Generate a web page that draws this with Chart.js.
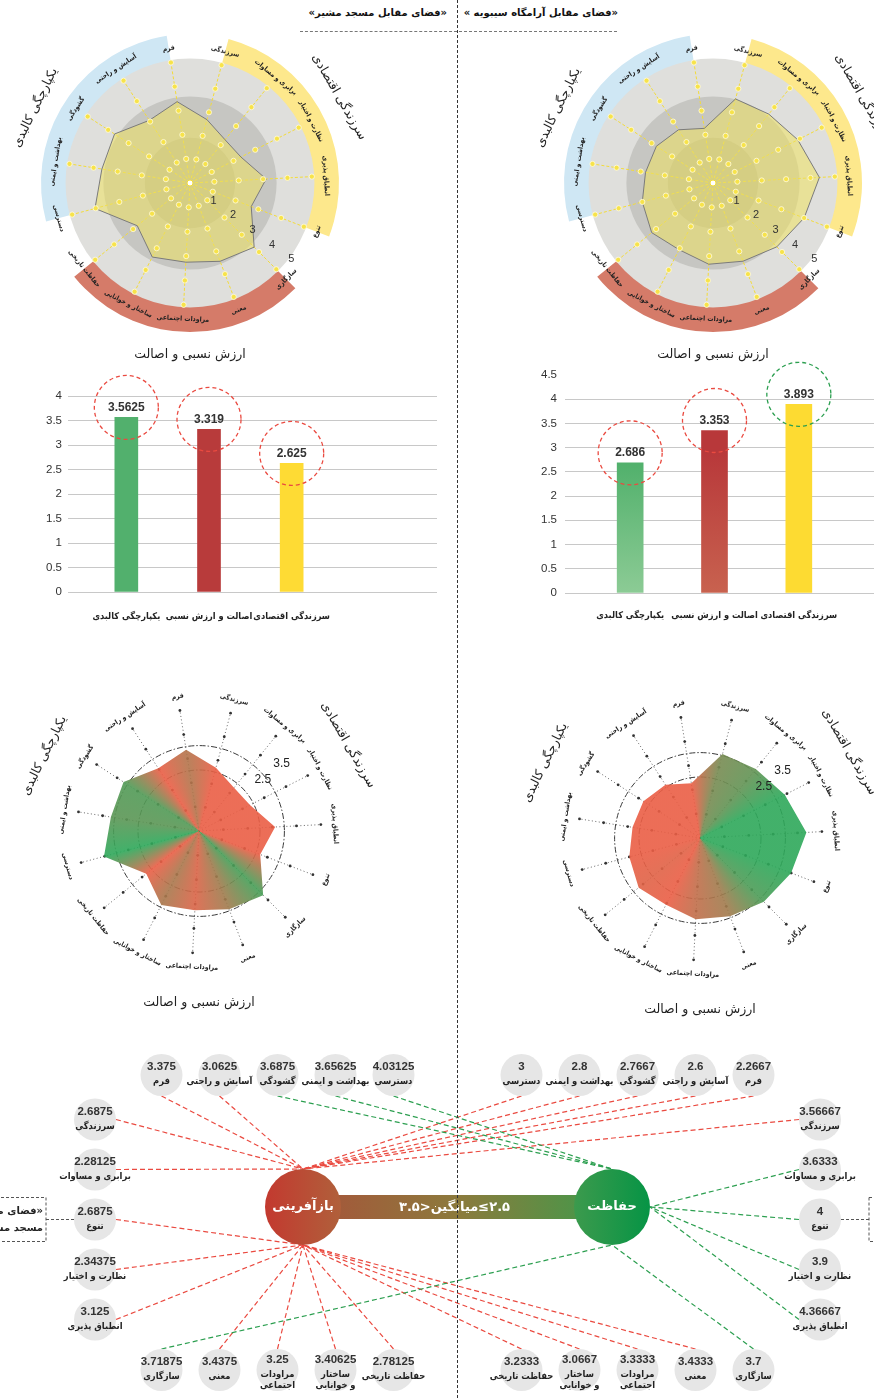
<!DOCTYPE html>
<html lang="fa">
<head>
<meta charset="utf-8">
<title>بازآفرینی و حفاظت</title>
<script src="https://cdn.jsdelivr.net/npm/chart.js@4.4.1/dist/chart.umd.min.js"></script>
<style>
    html, body { margin: 0; padding: 0; background: #fff; }
    body { width: 874px; height: 1398px; position: relative; overflow: hidden; font-family: 'DejaVu Sans', sans-serif; }
    .pane { position: absolute; }
    .title { position: absolute; top: 7px; font: bold 10px 'DejaVu Sans'; direction: rtl; white-space: nowrap; color: #111; }
    .vline { position: absolute; left: 457px; top: 0; height: 1398px; border-left: 1.3px dashed #333; z-index: 10; }
    .hline { position: absolute; top: 31px; height: 0; border-top: 1px dashed #777; }
</style>
</head>
<body>
<div class="title" style="right:427px">«فضای مقابل مسجد مشیر»</div>
<div class="title" style="right:256px">«فضای مقابل آرامگاه سیبویه »</div>
<div class="hline" style="left:300px; width:157px"></div>
<div class="hline" style="left:459px; width:158px"></div>
<div class="vline"></div>

<div class="pane" style="left:0; top:0; width:400px; height:370px"><canvas id="radar-mosque"></canvas></div>
<div class="pane" style="left:480px; top:0; width:394px; height:370px"><canvas id="radar-tomb"></canvas></div>
<div class="pane" style="left:0; top:370px; width:437px; height:270px"><canvas id="bars-mosque"></canvas></div>
<div class="pane" style="left:458px; top:360px; width:416px; height:280px"><canvas id="bars-tomb"></canvas></div>
<div class="pane" style="left:0; top:640px; width:420px; height:380px"><canvas id="grad-mosque"></canvas></div>
<div class="pane" style="left:470px; top:640px; width:404px; height:390px"><canvas id="grad-tomb"></canvas></div>
<div class="pane" style="left:0; top:1040px; width:874px; height:358px"><canvas id="links"></canvas></div>

<script>
// criteria in radar order, clockwise from the first spoke right of north
const criteria = ['سرزندگی', 'برابری و مساوات', 'نظارت و اختیار', 'انطباق پذیری', 'تنوع',
    'سازگاری', 'معنی', 'مراودات اجتماعی', 'ساختار و خوانایی', 'حفاظت تاریخی',
    'دسترسی', 'بهداشت و ایمنی', 'گشودگی', 'آسایش و راحتی', 'فرم'];
const mosqueScores = [2.6875, 2.28125, 2.34375, 3.125, 2.6875,
    3.71875, 3.4375, 3.25, 3.40625, 2.78125,
    4.03125, 3.65625, 3.6875, 3.0625, 3.375];
const tombScores = [3.56667, 3.6333, 3.9, 4.36667, 4,
    3.7, 3.4333, 3.3333, 3.0667, 3.2333,
    3, 2.8, 2.7667, 2.6, 2.2667];

const groupNames = ['سرزندگی اقتصادی', 'ارزش نسبی و اصالت', 'یکپارچگی کالبدی'];
const groupFirst = [0, 5, 10];
const radarTicks = [1, 2, 3, 4, 5];
const lowRadarTicks = [2.5, 3.5];

const barLabels = ['یکپارچگی کالبدی', 'اصالت و ارزش نسبی', 'سرزندگی اقتصادی'];
const mosqueBars = [3.5625, 3.319, 2.625];
const tombBars = [2.686, 3.353, 3.893];

// network diagram groups
const physRow = ['فرم', 'آسایش و راحتی', 'گشودگی', 'بهداشت و ایمنی', 'دسترسی'];
const econCol = ['سرزندگی', 'برابری و مساوات', 'تنوع', 'نظارت و اختیار', 'انطباق پذیری'];
const valueRow = ['سازگاری', 'معنی', 'مراودات اجتماعی', 'ساختار و خوانایی', 'حفاظت تاریخی'];
const hubNames = ['بازآفرینی', 'حفاظت'];

const GOOD = 3.6;
const RED = '#ea4a40';
const GREEN = '#2c9f50';
const FA = "'DejaVu Sans'";
const FA_NARROW = "'DejaVu Sans Condensed', 'DejaVu Sans'";
const NUM = "'Liberation Sans', 'DejaVu Sans'";

Chart.defaults.font.family = NUM;
Chart.defaults.animation = false;

function tangentText(ctx, cx, cy, r, deg, text) {
    const t = deg * Math.PI / 180;
    const d = ((deg % 360) + 540) % 360 - 180;
    ctx.save();
    ctx.translate(cx + r * Math.sin(t), cy - r * Math.cos(t));
    ctx.rotate(Math.abs(d) > 90 ? t + Math.PI : t);
    ctx.textAlign = 'center';
    ctx.textBaseline = 'middle';
    ctx.direction = 'rtl';
    ctx.fillText(text, 0, 0);
    ctx.restore();
}

function mixColor(v, alpha) {
    const t = Math.max(0, Math.min(1, (v - 3.2) / 0.6));
    const r = Math.round(234 + (46 - 234) * t);
    const g = Math.round(94 + (168 - 94) * t);
    const b = Math.round(69 + (90 - 69) * t);
    return `rgba(${r},${g},${b},${alpha})`;
}

function radarDecor(style, scores) {
    const bandColors = ['#fde88c', '#d57b69', '#cfe7f4'];
    const titleDeg = [60, 180, -64];
    const deg = (s, i) => s.getIndexAngle(i) * 180 / Math.PI;

    function labels(chart) {
        const s = chart.scales.r, ctx = chart.ctx;
        const R = s.getDistanceFromCenterForValue(5);
        ctx.save();
        ctx.fillStyle = '#222';
        ctx.font = `bold 6.8px ${FA_NARROW}`;
        criteria.forEach((c, i) => tangentText(ctx, s.xCenter, s.yCenter, R + 14, deg(s, i), c));
        ctx.font = `12.5px ${FA}`;
        groupNames.forEach((g, k) => tangentText(ctx, s.xCenter, s.yCenter, R + 50, titleDeg[k], g));
        ctx.restore();
    }

    function spokeDots(chart, fill, stroke, radius) {
        const s = chart.scales.r, ctx = chart.ctx;
        ctx.save();
        criteria.forEach((c, i) => {
            radarTicks.forEach(v => {
                const p = s.getPointPosition(i, s.getDistanceFromCenterForValue(v));
                ctx.beginPath();
                ctx.arc(p.x, p.y, radius, 0, Math.PI * 2);
                ctx.fillStyle = fill;
                ctx.fill();
                if (stroke) { ctx.strokeStyle = stroke; ctx.lineWidth = 0.8; ctx.stroke(); }
            });
        });
        ctx.restore();
    }

    return {
        id: 'radarDecor',
        beforeDraw(chart) {
            if (style !== 'disk') return;
            const s = chart.scales.r, ctx = chart.ctx;
            const cx = s.xCenter, cy = s.yCenter;
            const R = s.getDistanceFromCenterForValue(5);
            ctx.save();
            bandColors.forEach((col, k) => {
                const a0 = s.getIndexAngle(groupFirst[k]) - Math.PI / 2;
                const a1 = s.getIndexAngle(groupFirst[k] + 4) - Math.PI / 2;
                ctx.beginPath();
                ctx.arc(cx, cy, R + 27, a0, a1);
                ctx.arc(cx, cy, R - 10, a1, a0, true);
                ctx.closePath();
                ctx.fillStyle = col;
                ctx.fill();
            });
            [[5.1, '#dfdfdc'], [3.55, '#c6c6c2'], [1.85, '#b5b5ad']].forEach(([v, col]) => {
                ctx.beginPath();
                ctx.arc(cx, cy, s.getDistanceFromCenterForValue(v), 0, Math.PI * 2);
                ctx.fillStyle = col;
                ctx.fill();
            });
            ctx.restore();
        },
        beforeDatasetsDraw(chart) {
            if (style === 'disk') return;
            const s = chart.scales.r, ctx = chart.ctx;
            // conic fill: each spoke tinted from red (low score) to green (high score)
            const poly = chart.getDatasetMeta(0).dataset;
            if (poly && ctx.createConicGradient && isFinite(s.xCenter)) {
                const g = ctx.createConicGradient(s.getIndexAngle(0) - Math.PI / 2, s.xCenter, s.yCenter);
                scores.forEach((v, i) => g.addColorStop(i / scores.length, mixColor(v, 0.9)));
                g.addColorStop(1, mixColor(scores[0], 0.9));
                poly.options.backgroundColor = g;
            }
            ctx.save();
            ctx.strokeStyle = '#3a3a3a';
            ctx.lineWidth = 1;
            ctx.setLineDash([6, 2, 1.5, 2]);
            lowRadarTicks.forEach(v => {
                ctx.beginPath();
                ctx.arc(s.xCenter, s.yCenter, s.getDistanceFromCenterForValue(v), 0, Math.PI * 2);
                ctx.stroke();
            });
            ctx.restore();
            spokeDots(chart, '#333', null, 1.4);
        },
        afterDatasetsDraw(chart) {
            const s = chart.scales.r, ctx = chart.ctx;
            const cx = s.xCenter, cy = s.yCenter;
            if (style === 'disk') {
                spokeDots(chart, '#f7e34a', '#fffbe3', 2.6);
                ctx.save();
                ctx.beginPath();
                ctx.arc(cx, cy, 3, 0, Math.PI * 2);
                ctx.fillStyle = '#fff';
                ctx.fill();
                ctx.strokeStyle = '#f2dc3a';
                ctx.stroke();
                ctx.fillStyle = '#333';
                ctx.font = `11px ${NUM}`;
                ctx.textAlign = 'center';
                ctx.textBaseline = 'middle';
                const t = 127 * Math.PI / 180;
                radarTicks.forEach(v => {
                    const r = s.getDistanceFromCenterForValue(v) + 5;
                    ctx.fillText(String(v), cx + r * Math.sin(t), cy - r * Math.cos(t));
                });
                ctx.restore();
            } else {
                ctx.save();
                ctx.fillStyle = '#222';
                ctx.font = `12px ${NUM}`;
                ctx.textAlign = 'center';
                ctx.textBaseline = 'middle';
                const t = 51 * Math.PI / 180;
                lowRadarTicks.forEach(v => {
                    const r = s.getDistanceFromCenterForValue(v) + 21;
                    ctx.fillText(String(v), cx + r * Math.sin(t), cy - r * Math.cos(t));
                });
                ctx.restore();
            }
            labels(chart);
        }
    };
}

function radarChart(id, scores, style, box) {
    const R = 122.5;
    const padding = {
        left: box.cx - R, right: box.w - box.cx - R,
        top: box.cy - R, bottom: box.h - box.cy - R
    };
    const dataset = style === 'disk'
        ? { data: scores, backgroundColor: 'rgba(238,226,96,0.55)', borderColor: '#7b7b7b', borderWidth: 1, pointRadius: 0 }
        : { data: scores, backgroundColor: mixColor(3, 0.9), borderWidth: 0, pointRadius: 0 };
    return new Chart(document.getElementById(id), {
        type: 'radar',
        data: { labels: criteria, datasets: [dataset] },
        options: {
            responsive: true, maintainAspectRatio: false,
            layout: { padding, autoPadding: false },
            plugins: { legend: { display: false }, tooltip: { enabled: false } },
            scales: {
                r: {
                    min: 0, max: 5, startAngle: 15,
                    ticks: { display: false },
                    pointLabels: { display: false },
                    grid: { display: false },
                    angleLines: style === 'disk'
                        ? { color: '#f3dc3a', lineWidth: 1, borderDash: [3, 2] }
                        : { color: '#555', lineWidth: 0.9, borderDash: [1, 2.5] }
                }
            }
        },
        plugins: [radarDecor(style, scores)]
    });
}

const barMarks = {
    id: 'barMarks',
    beforeDatasetsDraw(chart, args, opts) {
        const y = chart.scales.y, a = chart.chartArea, ctx = chart.ctx;
        ctx.save();
        ctx.strokeStyle = '#c8c8c8';
        ctx.lineWidth = 1;
        y.ticks.forEach(t => {
            if (t.value >= y.max && opts.hideTop) return;
            const py = Math.round(y.getPixelForValue(t.value) - 0.5) + 0.5;
            ctx.beginPath();
            ctx.moveTo(a.right - 1, py);
            ctx.lineTo(a.right + opts.ext, py);
            ctx.stroke();
        });
        ctx.restore();
    },
    afterDatasetsDraw(chart) {
        const ctx = chart.ctx;
        const values = chart.data.datasets[0].data;
        chart.getDatasetMeta(0).data.forEach((bar, i) => {
            const y = bar.y - 10;
            ctx.save();
            ctx.font = `bold 12px ${NUM}`;
            ctx.fillStyle = '#333';
            ctx.textAlign = 'center';
            ctx.textBaseline = 'middle';
            ctx.fillText(String(values[i]), bar.x, y);
            ctx.beginPath();
            ctx.arc(bar.x, y, 32, 0, Math.PI * 2);
            ctx.setLineDash([4, 3]);
            ctx.lineWidth = 1.3;
            ctx.strokeStyle = values[i] >= GOOD ? GREEN : RED;
            ctx.stroke();
            ctx.restore();
        });
    }
};

function barChart(id, values, o) {
    return new Chart(document.getElementById(id), {
        type: 'bar',
        data: {
            labels: barLabels,
            datasets: [{ data: values, backgroundColor: o.colors, barThickness: o.thickness }]
        },
        options: {
            responsive: true, maintainAspectRatio: false,
            layout: { padding: { top: o.top, right: o.right, left: 0, bottom: 0 }, autoPadding: false },
            plugins: {
                legend: { display: false }, tooltip: { enabled: false },
                barMarks: { ext: o.right, hideTop: o.hideTop }
            },
            scales: {
                x: {
                    grid: { display: false, drawTicks: false },
                    border: { display: false },
                    ticks: {
                        font: { size: 9.2, weight: 'bold', family: FA_NARROW }, color: '#222', padding: o.labelPad,
                        maxRotation: 0, minRotation: 0, autoSkip: false
                    },
                    afterFit(s) { s.height = o.axisH; }
                },
                y: {
                    min: 0, max: o.max,
                    ticks: { stepSize: 0.5, font: { size: 11.5 }, color: '#333', padding: o.tickPad, callback: v => String(v) },
                    grid: {
                        tickLength: o.tickLen,
                        color: c => (o.hideTop && c.tick && c.tick.value >= o.max) ? 'rgba(0,0,0,0)' : '#c8c8c8'
                    },
                    border: { display: false },
                    afterFit(s) { s.width = o.axisW; }
                }
            }
        },
        plugins: [barMarks]
    });
}

radarChart('radar-mosque', mosqueScores, 'disk', { w: 400, h: 370, cx: 190, cy: 183 });
radarChart('radar-tomb', tombScores, 'disk', { w: 394, h: 370, cx: 233, cy: 183 });
radarChart('grad-mosque', mosqueScores, 'grad', { w: 420, h: 380, cx: 199, cy: 191 });
radarChart('grad-tomb', tombScores, 'grad', { w: 404, h: 390, cx: 230, cy: 198 });

barChart('bars-mosque', mosqueBars, {
    colors: ['#52b06d', '#b83b3b', '#fedb34'], thickness: 23,
    max: 4, top: 26, right: 104, axisW: 85, axisH: 48, tickLen: 17, tickPad: 6, labelPad: 19, hideTop: false
});

const tombTop = ['#4cae68', '#b8383a', '#fddb32'];
const tombBottom = ['#8ccb95', '#c8624f', '#fddb32'];
barChart('bars-tomb', tombBars, {
    colors(c) {
        const ch = c.chart, a = ch.chartArea, i = c.dataIndex;
        if (!a || !isFinite(a.top) || !isFinite(a.bottom)) return tombTop[i];
        const g = ch.ctx.createLinearGradient(0, a.top, 0, a.bottom);
        g.addColorStop(0.35, tombTop[i]);
        g.addColorStop(1, tombBottom[i]);
        return g;
    },
    thickness: 26,
    max: 4.5, top: 12, right: 33, axisW: 130, axisH: 47, tickLen: 23, tickPad: 8, labelPad: 17, hideTop: true
});

// ---- network diagram: layout in 50px units, origin on the centre line at the hub row
const U = 50;
const ROW_TOP = -2.64, ROW_BOTTOM = 3.26, COL_FIRST = -1.75, COL_X = 7.25;
const SLOT_FIRST = 5.92, SLOT_STEP = 1.16, HUB_X = 3.09;
const NODE_R = 21, HUB_R = 38;

const nodes = [];
[['left', mosqueScores], ['right', tombScores]].forEach(([side, scores]) => {
    const sign = side === 'left' ? -1 : 1;
    const score = name => scores[criteria.indexOf(name)];
    physRow.forEach((name, i) => nodes.push({ name, value: score(name), side, row: 'top', i,
        x: sign * (SLOT_FIRST - SLOT_STEP * i), y: ROW_TOP }));
    econCol.forEach((name, i) => nodes.push({ name, value: score(name), side, row: 'col', i,
        x: sign * COL_X, y: COL_FIRST + i }));
    valueRow.forEach((name, i) => nodes.push({ name, value: score(name), side, row: 'bottom', i,
        x: sign * (SLOT_FIRST - SLOT_STEP * i), y: ROW_BOTTOM }));
});

const nr = NODE_R / U, hr = HUB_R / U;
const linkSets = nodes.map(n => {
    const good = n.value >= GOOD;
    const hx = good ? HUB_X : -HUB_X;
    let from, to;
    if (n.row === 'top') from = { x: n.x, y: n.y + nr };
    else if (n.row === 'bottom') from = { x: n.x, y: n.y - nr };
    else from = { x: n.x + (n.side === 'left' ? nr : -nr), y: n.y };
    if (n.row === 'top') to = { x: hx, y: -hr };
    else if (n.row === 'bottom') to = { x: hx, y: hr };
    else if (good && n.side === 'right') to = { x: hx + hr, y: 0 };
    else to = { x: hx, y: n.i < 2 ? -hr : hr };
    return {
        type: 'line', data: [from, to], borderColor: good ? GREEN : RED,
        borderWidth: 1.2, borderDash: [5, 3], pointRadius: 0, fill: false
    };
});

const wrapped = { 'مراودات اجتماعی': ['مراودات', 'اجتماعی'], 'ساختار و خوانایی': ['ساختار', 'و خوانایی'] };

const diagramText = {
    id: 'diagramText',
    beforeDatasetsDraw(chart) {
        const hubs = chart.getDatasetMeta(1).data;
        const ctx = chart.ctx;
        const a = hubs[0], b = hubs[1];
        const g = ctx.createLinearGradient(a.x, 0, b.x, 0);
        g.addColorStop(0, '#a8523a');
        g.addColorStop(0.5, '#8c7a3c');
        g.addColorStop(1, '#3f9b4b');
        ctx.save();
        ctx.fillStyle = g;
        ctx.fillRect(a.x, a.y - 12, b.x - a.x, 24);
        ctx.restore();
        // hub discs with a left-to-right shading
        const shades = [['#c3392f', '#b0603b'], ['#3c9a4d', '#069445']];
        hubs.forEach((h, i) => {
            const hg = ctx.createLinearGradient(h.x - HUB_R, 0, h.x + HUB_R, 0);
            hg.addColorStop(0, shades[i][0]);
            hg.addColorStop(1, shades[i][1]);
            h.options.backgroundColor = hg;
        });
    },
    afterDatasetsDraw(chart) {
        const ctx = chart.ctx;
        const pts = chart.getDatasetMeta(0).data;
        ctx.save();
        ctx.textAlign = 'center';
        ctx.textBaseline = 'middle';
        nodes.forEach((n, i) => {
            const p = pts[i];
            const lines = n.row === 'bottom' && wrapped[n.name] ? wrapped[n.name] : [n.name];
            const top = lines.length > 1 ? p.y - 10 : p.y - 8;
            ctx.direction = 'ltr';
            ctx.fillStyle = '#333';
            ctx.font = `bold 11.5px 'Liberation Sans Narrow', ${NUM}`;
            ctx.fillText(String(n.value), p.x, top);
            ctx.direction = 'rtl';
            ctx.fillStyle = '#222';
            ctx.font = `bold 9.3px ${FA_NARROW}`;
            lines.forEach((t, k) => ctx.fillText(t, p.x, top + 15 + k * 11));
        });

        // hub captions
        const hubs = chart.getDatasetMeta(1).data;
        ctx.fillStyle = '#fff';
        ctx.font = `bold 13px ${FA}`;
        hubs.forEach((h, i) => ctx.fillText(hubNames[i], h.x, h.y));

        // range caption on the bar, pieces laid out left to right
        const pieces = ['۳.۵', '>', 'میانگین', '≤', '۲.۵'];
        ctx.font = `bold 13px ${FA}`;
        const widths = pieces.map(t => ctx.measureText(t).width);
        let x = (hubs[0].x + hubs[1].x) / 2 - 3 - widths.reduce((s, w) => s + w, 0) / 2;
        pieces.forEach((t, k) => {
            ctx.direction = k === 2 ? 'rtl' : 'ltr';
            ctx.textAlign = k === 2 ? 'right' : 'left';
            ctx.fillText(t, k === 2 ? x + widths[k] : x, hubs[0].y + 1);
            x += widths[k];
        });

        // dashed site boxes at the page edges, tied to the «تنوع» nodes
        ctx.setLineDash([3, 2]);
        ctx.strokeStyle = '#555';
        ctx.lineWidth = 1;
        nodes.forEach((n, i) => {
            if (n.name !== 'تنوع') return;
            const p = pts[i];
            const dir = n.side === 'left' ? -1 : 1;
            const edge = p.x + dir * 49;
            ctx.beginPath();
            ctx.moveTo(p.x + dir * NODE_R, p.y);
            ctx.lineTo(edge, p.y);
            ctx.stroke();
            ctx.strokeRect(n.side === 'left' ? edge - 140 : edge, p.y - 22, 140, 44);
            if (n.side === 'left') {
                ctx.fillStyle = '#222';
                ctx.font = `bold 10px ${FA}`;
                ctx.direction = 'rtl';
                ctx.textAlign = 'right';
                ctx.fillText('«فضای مقابل', edge - 3, p.y - 8);
                ctx.fillText('مسجد مشیر»', edge - 3, p.y + 9);
            }
        });
        ctx.restore();
    }
};

new Chart(document.getElementById('links'), {
    type: 'scatter',
    data: {
        datasets: [
            {
                data: nodes.map(n => ({ x: n.x, y: n.y })),
                pointRadius: NODE_R, pointBackgroundColor: '#e6e6e6', pointBorderWidth: 0
            },
            {
                data: [{ x: -HUB_X, y: 0 }, { x: HUB_X, y: 0 }],
                pointRadius: HUB_R, pointBorderWidth: 0,
                pointBackgroundColor: ['#bd4632', '#139449']
            },
            ...linkSets
        ]
    },
    options: {
        responsive: true, maintainAspectRatio: false,
        layout: { padding: 0, autoPadding: false },
        plugins: { legend: { display: false }, tooltip: { enabled: false } },
        scales: {
            x: { type: 'linear', min: -457.5 / U, max: 416.5 / U, display: false },
            y: { type: 'linear', min: -167 / U, max: 191 / U, reverse: true, display: false }
        }
    },
    plugins: [diagramText]
});
</script>
</body>
</html>
